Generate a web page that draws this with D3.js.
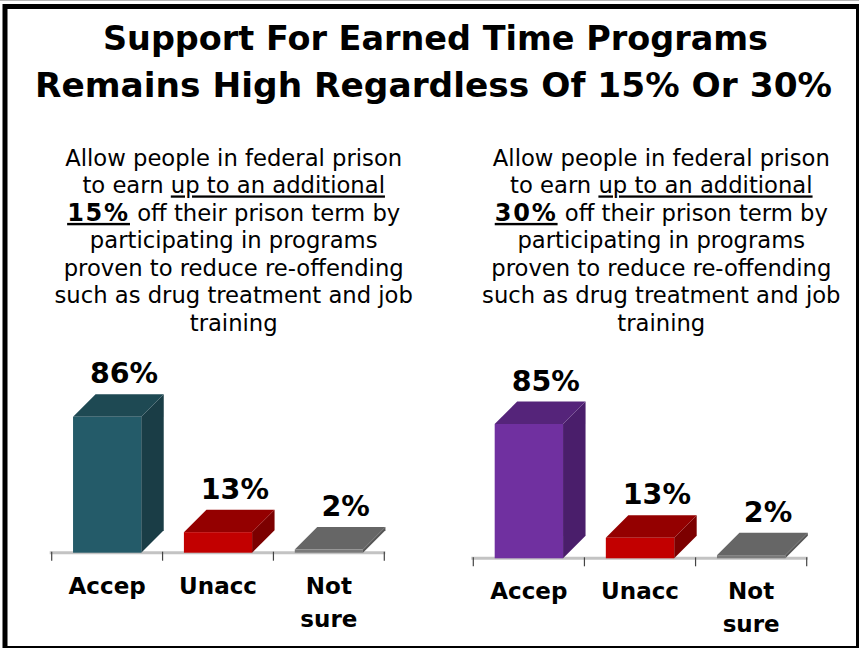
<!DOCTYPE html>
<html>
<head>
<meta charset="utf-8">
<script src="https://cdn.jsdelivr.net/npm/d3@7"></script>
<style>
  html, body { margin: 0; padding: 0; background: #fff; }
  svg { display: block; }
</style>
</head>
<body>
<svg id="chart" width="859" height="648"></svg>
<script>
// ---- data ----
const titleLines = ["Support For Earned Time Programs", "Remains High Regardless Of 15% Or 30%"];
const categories = ["Accep", "Unacc", "Not sure"];
const values15 = [86, 13, 2];
const values30 = [85, 13, 2];
const colors15 = ["teal", "red", "gray"];
const colors30 = ["purple", "red", "gray"];

// question wording; each line is a list of [text, bold, underline] runs
const question15 = [
  [["Allow people in federal prison", 0, 0]],
  [["to earn ", 0, 0], ["up to an additional", 0, 1]],
  [["15%", 1, 1], [" off their prison term by", 0, 0]],
  [["participating in programs", 0, 0]],
  [["proven to reduce re-offending", 0, 0]],
  [["such as drug treatment and job", 0, 0]],
  [["training", 0, 0]]
];
const question30 = [
  [["Allow people in federal prison", 0, 0]],
  [["to earn ", 0, 0], ["up to an additional", 0, 1]],
  [["30%", 1, 1], [" off their prison term by", 0, 0]],
  [["participating in programs", 0, 0]],
  [["proven to reduce re-offending", 0, 0]],
  [["such as drug treatment and job", 0, 0]],
  [["training", 0, 0]]
];

// face shades for the 3D boxes: front, top, side
const shades = {
  teal:   { front: "#245b69", top: "#1e4953", side: "#1a3d46" },
  red:    { front: "#c20000", top: "#940000", side: "#7c0000" },
  gray:   { front: "#7a7a7a", top: "#666666", side: "#555555" },
  purple: { front: "#7030a0", top: "#55247a", side: "#4a1e6b" }
};

const svg = d3.select("#chart");
const W = 859, H = 648;
const font = "'DejaVu Sans', Verdana, sans-serif";

// ---- frame ----
svg.append("line").attr("x1", 0).attr("x2", W).attr("y1", 0.5).attr("y2", 0.5)
  .attr("stroke", "#b5b5b5").attr("stroke-width", 1);
svg.append("rect")
  .attr("x", 5).attr("y", 6.5).attr("width", 853.5).attr("height", 642)
  .attr("fill", "none").attr("stroke", "#000").attr("stroke-width", 5);

// ---- title ----
const titleSpecs = [{ cx: 435.5, y: 49.5, len: 665 }, { cx: 433.5, y: 97.3, len: 797 }];
titleLines.forEach((t, i) => {
  svg.append("text")
    .attr("x", titleSpecs[i].cx).attr("y", titleSpecs[i].y)
    .attr("text-anchor", "middle")
    .attr("font-family", font).attr("font-weight", "bold")
    .attr("font-size", 34)
    .attr("textLength", titleSpecs[i].len).attr("lengthAdjust", "spacingAndGlyphs")
    .attr("fill", "#000")
    .text(t);
});

// ---- question paragraphs ----
function drawQuestion(lines, cx, y0) {
  const g = svg.append("g");
  lines.forEach((runs, i) => {
    const txt = g.append("text")
      .attr("x", cx).attr("y", y0 + i * 27.45)
      .attr("text-anchor", "middle")
      .attr("font-family", font)
      .attr("font-size", 22.7)
      .attr("fill", "#000");
    runs.forEach(([s, b, u]) => {
      txt.append("tspan")
        .attr("font-weight", b ? "bold" : "normal")
        .attr("font-size", b ? 24 : null)
        .attr("letter-spacing", b ? 1.8 : null)
        .attr("text-decoration", u ? "underline" : null)
        .style("white-space", "pre")
        .text(s);
    });
  });
}
drawQuestion(question15, 233.7, 166);
drawQuestion(question30, 661.3, 166);

// ---- 3D bar panels ----
const depthX = 22.5, depthY = 22.5;

function drawPanel(values, colorKeys, x0, x1, base) {
  const g = svg.append("g");
  const x = d3.scaleBand().domain(categories).range([x0, x1]).padding(0);
  const y = d3.scaleLinear().domain([0, 100]).range([base, base - 158]);
  const fw = x.bandwidth() * 0.615;

  // floor line
  g.append("line")
    .attr("x1", x0 - 2).attr("x2", x1 + 1)
    .attr("y1", base).attr("y2", base)
    .attr("stroke", "#c3c3c3").attr("stroke-width", 3);

  // tick marks at band boundaries
  const edges = categories.map(c => x(c)).concat([x1]);
  g.selectAll("line.tick").data(edges).enter().append("line")
    .attr("class", "tick")
    .attr("x1", d => d).attr("x2", d => d)
    .attr("y1", base - 1).attr("y2", base + 8)
    .attr("stroke", "#444").attr("stroke-width", 1.2);

  categories.forEach((c, i) => {
    const v = values[i];
    const fx = x(c) + (x.bandwidth() - fw) / 2;
    const yt = y(v);
    const sh = shades[colorKeys[i]];
    // side face
    g.append("polygon")
      .attr("points", [[fx + fw, yt], [fx + fw + depthX, yt - depthY],
                       [fx + fw + depthX, base - depthY], [fx + fw, base]].join(" "))
      .attr("fill", sh.side);
    // top face
    g.append("polygon")
      .attr("points", [[fx, yt], [fx + depthX, yt - depthY],
                       [fx + fw + depthX, yt - depthY], [fx + fw, yt]].join(" "))
      .attr("fill", sh.top);
    // front face
    g.append("rect")
      .attr("x", fx).attr("y", yt).attr("width", fw).attr("height", base - yt)
      .attr("fill", sh.front);

    // value label
    g.append("text")
      .attr("x", fx + fw / 2 + depthX * 0.75)
      .attr("y", yt - depthY - 11)
      .attr("text-anchor", "middle")
      .attr("font-family", font)
      .attr("font-weight", "bold").attr("font-size", 28.5)
      .attr("fill", "#000")
      .text(v + "%");

    // category label (may wrap onto two lines)
    const words = c.split(" ");
    const lab = g.append("text")
      .attr("text-anchor", "middle")
      .attr("font-family", font)
      .attr("font-weight", "bold").attr("font-size", 23)
      .attr("fill", "#000");
    words.forEach((w, k) => {
      lab.append("tspan")
        .attr("x", x(c) + x.bandwidth() / 2)
        .attr("y", base + 40.8 + k * 33)
        .text(w);
    });
  });
}

drawPanel(values15, colors15, 51.7, 384.3, 552.7);
drawPanel(values30, colors30, 473.3, 806.7, 558.3);
</script>
</body>
</html>
